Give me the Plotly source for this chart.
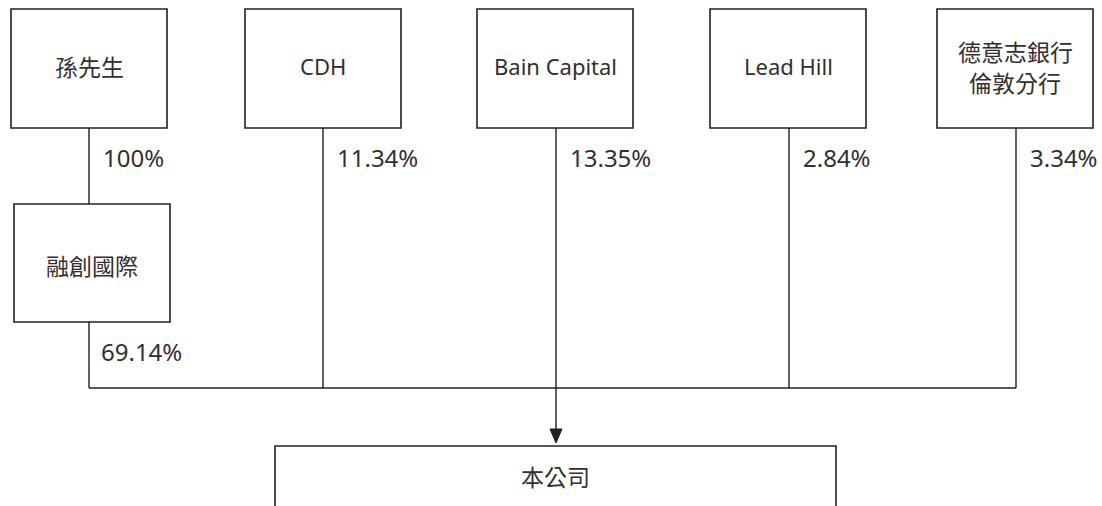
import plotly.graph_objects as go

# ---- data ----
shareholders = ["孫先生", "CDH", "Bain Capital", "Lead Hill", "德意志銀行<br>倫敦分行"]
holding_pct = ["100%", "11.34%", "13.35%", "2.84%", "3.34%"]
intermediate = "融創國際"
intermediate_pct = "69.14%"
company = "本公司"

# ---- layout (pixel coordinates) ----
W, H = 1102, 506
box_left = [11, 245, 477, 710, 937]
box_w = 156
top_y0, top_y1 = 9, 128
line_x = [89, 323, 556, 789, 1016]
mid_box = (14, 170, 204, 322)
bus_y = 388
bottom_box = (275, 836, 446, 530)
arrow_tip = 443
line_gap = 31

LINE = "#231f20"
TXT = "#332e2f"
FONT_LAT = "Noto Sans, Noto Sans CJK TC"
FONT_CJK = "Noto Sans CJK TC"

shapes = []
ann = []

def is_cjk(s):
    return any(ord(c) > 0x2E80 for c in s)

def rect(x0, x1, y0, y1):
    shapes.append(dict(type="rect", x0=x0, x1=x1, y0=y0, y1=y1, xref="x", yref="y",
                       line=dict(color=LINE, width=1.6), fillcolor="rgba(0,0,0,0)"))

def seg(x0, y0, x1, y1):
    shapes.append(dict(type="line", x0=x0, x1=x1, y0=y0, y1=y1, xref="x", yref="y",
                       line=dict(color=LINE, width=1.4)))

def text(x, y, s, size, anchor="center"):
    lines = s.split("<br>")
    n = len(lines)
    for k, ln in enumerate(lines):
        yy = y + (k - (n - 1) / 2) * line_gap
        cjk = is_cjk(ln)
        ann.append(dict(x=x, y=yy, text=ln, showarrow=False, xref="x", yref="y",
                        xanchor=anchor, yanchor="middle",
                        font=dict(family=FONT_CJK if cjk else FONT_LAT,
                                  size=23 if cjk else size, color=TXT)))

for i, name in enumerate(shareholders):
    x0 = box_left[i]
    rect(x0, x0 + box_w, top_y0, top_y1)
    text(x0 + box_w / 2, 66, name, 22)
    text(line_x[i] + 12, 157, holding_pct[i], 24, "left")
    if i == 0:
        seg(line_x[i], top_y1, line_x[i], mid_box[2])
    else:
        seg(line_x[i], top_y1, line_x[i], bus_y)

# intermediate box
rect(*mid_box)
text((mid_box[0] + mid_box[1]) / 2, 265, intermediate, 22)
seg(line_x[0], mid_box[3], line_x[0], bus_y)
text(line_x[0] + 10, 351, intermediate_pct, 24, "left")

# bus line
seg(line_x[0], bus_y, line_x[-1], bus_y)

# arrow down to company
seg(line_x[2], bus_y, line_x[2], arrow_tip - 8)
shapes.append(dict(type="path", xref="x", yref="y",
                   path=f"M {line_x[2]-6},{arrow_tip-14} L {line_x[2]+6},{arrow_tip-14} L {line_x[2]},{arrow_tip} Z",
                   fillcolor=LINE, line=dict(color=LINE, width=1)))

rect(*bottom_box)
text((bottom_box[0] + bottom_box[1]) / 2, 476, company, 22)

fig = go.Figure()
fig.update_layout(
    width=W, height=H,
    margin=dict(l=0, r=0, t=0, b=0),
    paper_bgcolor="white", plot_bgcolor="white",
    xaxis=dict(range=[0, W], visible=False, fixedrange=True),
    yaxis=dict(range=[H, 0], visible=False, fixedrange=True),
    shapes=shapes, annotations=ann, showlegend=False,
)
fig.write_html("out.html", config={"displayModeBar": False},
               post_script="document.body.style.margin='0px';document.body.style.overflow='hidden';")
